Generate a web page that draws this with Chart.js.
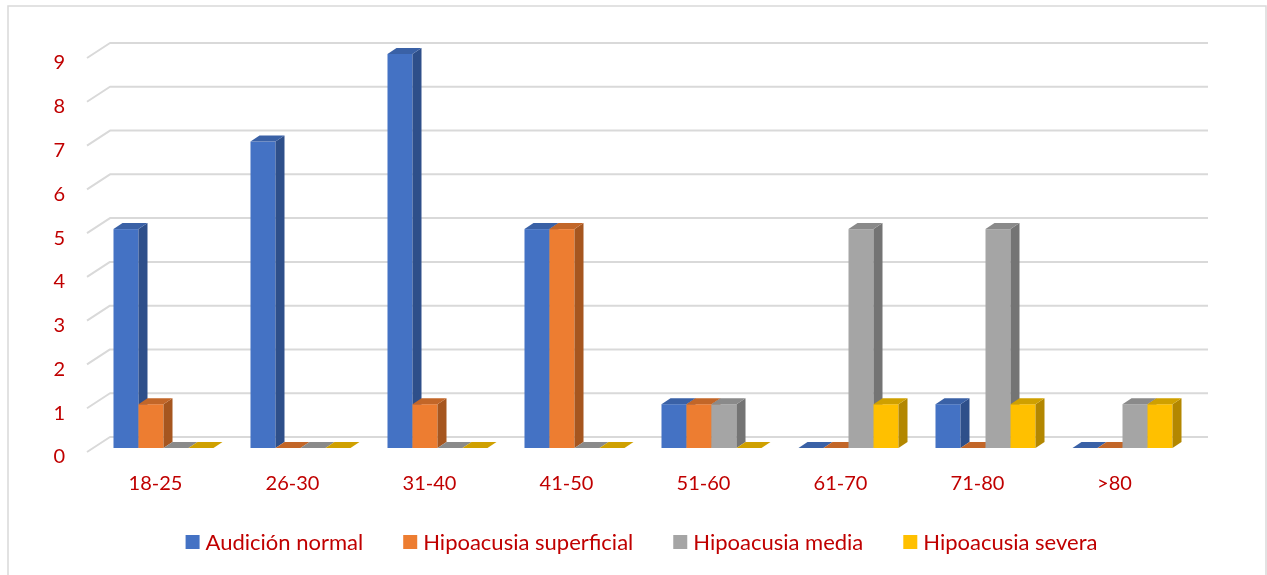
<!DOCTYPE html>
<html>
<head>
<meta charset="utf-8">
<script src="https://cdn.jsdelivr.net/npm/chart.js@4.4.1/dist/chart.umd.min.js"></script>
<style>
  body { margin: 0; background: #fff; }
  #wrap { width: 1267px; height: 575px; }
</style>
</head>
<body>
<div id="wrap"><canvas id="myChart" width="1267" height="575"></canvas></div>
<script>
// age groups and counts per hearing level
const ageGroups = ["18-25", "26-30", "31-40", "41-50", "51-60", "61-70", "71-80", ">80"];
const normal = [5, 7, 9, 5, 1, 0, 1, 0];
const superficial = [1, 0, 1, 5, 1, 0, 0, 0];
const media = [0, 0, 0, 0, 1, 5, 5, 1];
const severa = [0, 0, 0, 0, 0, 1, 1, 1];
const yTicks = [0, 1, 2, 3, 4, 5, 6, 7, 8, 9];

const seriesNames = ["Audición normal", "Hipoacusia superficial", "Hipoacusia media", "Hipoacusia severa"];
const front = ["#4472C4", "#ED7D31", "#A5A5A5", "#FFC000"];
const side = ["#2E4F8A", "#A6561F", "#747474", "#B38700"];
const top_ = ["#3A61A6", "#C26628", "#8A8A8A", "#CFA000"];

const red = "#C00000";
const gridColor = "#D9D9D9";

// 3d look: wall depth for the grid, bar depth, and where bars sit in the floor
const wallDx = 23, wallDy = -15;
const barDx = 9, barDy = -6;
const barShiftX = 8, barShiftY = -4;

const frame3d = {
  id: "frame3d",
  beforeDraw(chart) {
    const ctx = chart.ctx;
    ctx.save();
    ctx.strokeStyle = gridColor;
    ctx.lineWidth = 1.5;
    ctx.strokeRect(8, 6, 1258, 640);
    ctx.restore();
  },
  beforeDatasetsDraw(chart) {
    const ctx = chart.ctx;
    const y = chart.scales.y;
    const area = chart.chartArea;
    // gridlines: short slant on the left wall, then along the back wall
    ctx.save();
    ctx.strokeStyle = gridColor;
    ctx.lineWidth = 2;
    ctx.lineJoin = "round";
    yTicks.forEach(v => {
      const py = y.getPixelForValue(v);
      ctx.beginPath();
      ctx.moveTo(area.left, py);
      ctx.lineTo(area.left + wallDx, py + wallDy);
      ctx.lineTo(area.right + wallDx + 2, py + wallDy);
      ctx.stroke();
    });
    ctx.restore();
  },
  afterDatasetsDraw(chart) {
    // chart.js bars are transparent, the boxes are painted here left to right
    const ctx = chart.ctx;
    ctx.save();
    ctx.translate(barShiftX, barShiftY);
    chart.data.datasets.forEach((ds, i) => {
      chart.getDatasetMeta(i).data.forEach(bar => {
        const p = bar.getProps(["x", "y", "base", "width"], true);
        const l = p.x - p.width / 2, r = p.x + p.width / 2;
        const t = Math.min(p.y, p.base), b = Math.max(p.y, p.base);
        ctx.fillStyle = front[i];
        ctx.fillRect(l, t, r - l, b - t);
        // right side
        ctx.fillStyle = side[i];
        ctx.beginPath();
        ctx.moveTo(r, t);
        ctx.lineTo(r + barDx, t + barDy);
        ctx.lineTo(r + barDx, b + barDy);
        ctx.lineTo(r, b);
        ctx.closePath();
        ctx.fill();
        // top
        ctx.fillStyle = top_[i];
        ctx.beginPath();
        ctx.moveTo(l, t);
        ctx.lineTo(l + barDx, t + barDy);
        ctx.lineTo(r + barDx, t + barDy);
        ctx.lineTo(r, t);
        ctx.closePath();
        ctx.fill();
      });
    });
    ctx.restore();
  },
  afterDraw(chart) {
    // legend row under the axis
    const ctx = chart.ctx;
    ctx.save();
    ctx.font = "22px Lato";
    ctx.textBaseline = "alphabetic";
    const box = 14, gapText = 6, gapItem = 40;
    let total = 0;
    const widths = seriesNames.map(n => ctx.measureText(n).width);
    widths.forEach((w, k) => { total += box + gapText + w + (k > 0 ? gapItem : 0); });
    let x = 641.5 - total / 2;
    seriesNames.forEach((n, k) => {
      ctx.fillStyle = front[k];
      ctx.fillRect(x, 535, box, box);
      ctx.fillStyle = red;
      ctx.fillText(n, x + box + gapText, 549.5);
      x += box + gapText + widths[k] + gapItem;
    });
    ctx.restore();
  }
};

const datasets = [normal, superficial, media, severa].map((vals, i) => ({
  label: seriesNames[i],
  data: vals,
  backgroundColor: "rgba(0,0,0,0)",
  borderWidth: 0,
  categoryPercentage: 0.73,
  barPercentage: 1.0
}));

const ctx = document.getElementById("myChart").getContext("2d");
const myChart = new Chart(ctx, {
  type: "bar",
  data: { labels: ageGroups, datasets: datasets },
  options: {
    responsive: false,
    animation: false,
    layout: { padding: { top: 58, right: 84, bottom: 63, left: 0 } },
    plugins: { legend: { display: false }, tooltip: { enabled: false } },
    scales: {
      x: {
        grid: { display: false, drawTicks: false },
        border: { display: false },
        ticks: { color: red, font: { family: "Lato", size: 20 }, padding: 20 },
        afterFit(scale) { scale.height = 60; }
      },
      y: {
        min: 0,
        max: 9,
        grid: { display: false, drawTicks: false },
        border: { display: false },
        ticks: { color: red, font: { family: "Lato", size: 20 }, padding: 22, stepSize: 1, labelOffset: 5 },
        afterFit(scale) { scale.width = 87; }
      }
    }
  },
  plugins: [frame3d]
});
</script>
</body>
</html>
